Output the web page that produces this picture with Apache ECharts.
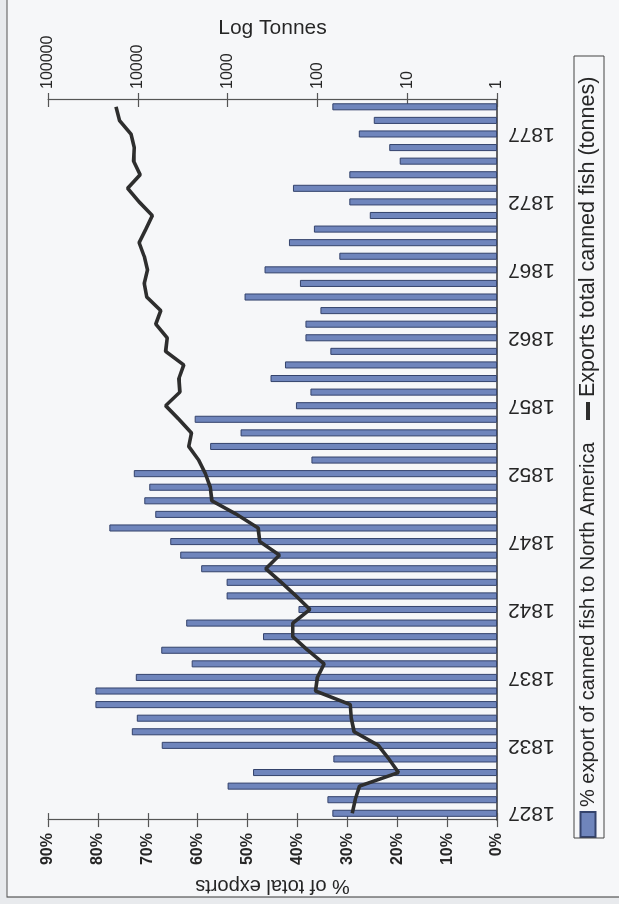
<!DOCTYPE html>
<html>
<head>
<meta charset="utf-8">
<script src="https://cdn.jsdelivr.net/npm/echarts@6/dist/echarts.min.js"></script>
<style>
  html, body { margin: 0; padding: 0; overflow: hidden; background: #e8eaed; }
  #wrap { position: absolute; left: 0; top: 0; width: 619px; height: 904px; overflow: hidden; }
  /* chart is laid out landscape, then turned a quarter turn anticlockwise */
  #chart { position: absolute; left: 0; top: 0; width: 904px; height: 619px;
           transform-origin: 0 0; transform: translate(0px, 904px) rotate(-90deg); }
</style>
</head>
<body>
<div id="wrap"><div id="chart"></div></div>
<script>
// Years on the category axis
const years = [
  '1827','1828','1829','1830','1831','1832','1833','1834','1835','1836',
  '1837','1838','1839','1840','1841','1842','1843','1844','1845','1846',
  '1847','1848','1849','1850','1851','1852','1853','1854','1855','1856',
  '1857','1858','1859','1860','1861','1862','1863','1864','1865','1866',
  '1867','1868','1869','1870','1871','1872','1873','1874','1875','1876',
  '1877','1878','1879'
];

// Share of canned fish exports sent to North America (%)
const pctNorthAmerica = [
  33.0, 34.0, 54.0, 48.9, 32.8, 67.2, 73.2, 72.2, 80.5, 80.5,
  72.4, 61.2, 67.3, 46.9, 62.3, 39.8, 54.2, 54.2, 59.3, 63.5,
  65.5, 77.7, 68.5, 70.7, 69.7, 72.8, 37.2, 57.5, 51.4, 60.6,
  40.3, 37.4, 45.4, 42.5, 33.4, 38.4, 38.4, 35.4, 50.6, 39.5,
  46.6, 31.6, 41.7, 36.7, 25.5, 29.6, 40.9, 29.6, 19.5, 21.6,
  27.7, 24.7, 33.0
];

// Total canned fish exports (tonnes)
const exportTonnes = [
  41, 38, 34, 12.5, 16, 21, 39, 42, 43, 105,
  100, 84, 128, 188, 188, 121, 173, 253, 376, 264,
  438, 457, 794, 1496, 1560, 1770, 2100, 2710, 2530, 3490,
  4900, 3400, 3490, 3080, 4900, 4700, 6310, 5560, 7940, 8490,
  7820, 8490, 9660, 8150, 6890, 9660, 13000, 9420, 11140, 10960,
  11910, 16030, 17460
];

const barName = '% export of canned fish to North America';
const lineName = 'Exports total canned fish (tonnes)';
const FONT = 'Arial, "Liberation Sans", sans-serif';
const INK = '#262626';
const AXIS = '#555';

const chart = echarts.init(document.getElementById('chart'), null, { renderer: 'canvas' });

chart.setOption({
  backgroundColor: 'transparent',
  animation: false,
  textStyle: { fontFamily: FONT },
  graphic: [
    { type: 'rect', z: -10, shape: { x: 7, y: 7, width: 900, height: 640 },
      style: { fill: '#f6f7f9', stroke: '#555', lineWidth: 1.2 } },
    { type: 'rect', z: 5, shape: { x: 66, y: 574, width: 782, height: 30 },
      style: { fill: 'none', stroke: '#444', lineWidth: 1 } }
  ],
  grid: { left: 80, right: 100, top: 48, bottom: 122, containLabel: false },
  legend: [
    {
      data: [barName], left: 66, top: 578, padding: 0,
      itemWidth: 25, itemHeight: 15, icon: 'rect',
      textStyle: { fontSize: 20, color: INK, fontFamily: FONT }
    },
    {
      data: [{ name: lineName, itemStyle: { color: '#2e2e2e' } }],
      left: 484, top: 577, padding: 0,
      itemWidth: 18, itemHeight: 4, icon: 'rect',
      textStyle: { fontSize: 21.5, color: INK, fontFamily: FONT }
    }
  ],
  xAxis: [
    {
      type: 'category', data: years, position: 'bottom', boundaryGap: true,
      axisLine: { lineStyle: { color: '#333', width: 1.6 } },
      axisTick: { interval: 4, length: 7, lineStyle: { color: '#333', width: 1.2 } },
      axisLabel: { interval: 4, rotate: 90, fontSize: 21, color: INK, margin: 11, fontFamily: FONT },
      splitLine: { show: false }
    },
    {
      type: 'category', data: years, position: 'bottom', boundaryGap: true,
      axisLine: { show: false },
      axisTick: { inside: true, interval: 4, length: 7, lineStyle: { color: '#333', width: 1.2 } },
      axisLabel: { show: false },
      splitLine: { show: false }
    }
  ],
  yAxis: [
    {
      type: 'value', position: 'left', min: 0, max: 90, interval: 10,
      axisLine: { show: true, lineStyle: { color: AXIS, width: 1.2 } },
      axisTick: { show: true, length: 7, lineStyle: { color: AXIS, width: 1.2 } },
      axisLabel: { formatter: '{value}%', fontSize: 16, fontWeight: 'bold', color: INK, margin: 13, fontFamily: FONT },
      splitLine: { show: false },
      name: '% of total exports', nameLocation: 'middle', nameRotate: 90, nameGap: 52,
      nameTextStyle: { fontSize: 20, color: INK, fontFamily: FONT }
    },
    {
      type: 'value', position: 'left', min: 0, max: 90, interval: 10,
      axisLine: { show: false },
      axisTick: { show: true, inside: true, length: 7, lineStyle: { color: AXIS, width: 1.2 } },
      axisLabel: { show: false },
      splitLine: { show: false }
    },
    {
      type: 'log', logBase: 10, position: 'right', min: 1, max: 100000,
      axisLine: { show: true, lineStyle: { color: AXIS, width: 1.2 } },
      axisTick: { show: true, length: 7, lineStyle: { color: AXIS, width: 1.2 } },
      axisLabel: { formatter: v => String(v), fontSize: 16, color: INK, margin: 11, fontFamily: FONT },
      splitLine: { show: false },
      name: 'Log Tonnes', nameLocation: 'middle', nameRotate: -90, nameGap: 61,
      nameMoveOverlap: false,
      nameTextStyle: { fontSize: 21, color: INK, fontFamily: FONT }
    },
    {
      type: 'log', logBase: 10, position: 'right', min: 1, max: 100000,
      axisLine: { show: false },
      axisTick: { show: true, inside: true, length: 7, lineStyle: { color: AXIS, width: 1.2 } },
      axisLabel: { show: false },
      splitLine: { show: false }
    }
  ],
  series: [
    {
      name: barName, type: 'bar', xAxisIndex: 0, yAxisIndex: 0,
      data: pctNorthAmerica, barWidth: '52%',
      itemStyle: { color: '#6f85bc', borderColor: '#34436c', borderWidth: 1 }
    },
    {
      name: lineName, type: 'line', xAxisIndex: 0, yAxisIndex: 2,
      data: exportTonnes, symbol: 'none', z: 4,
      lineStyle: { color: '#2e2e2e', width: 3.6 }
    }
  ]
});
</script>
</body>
</html>
